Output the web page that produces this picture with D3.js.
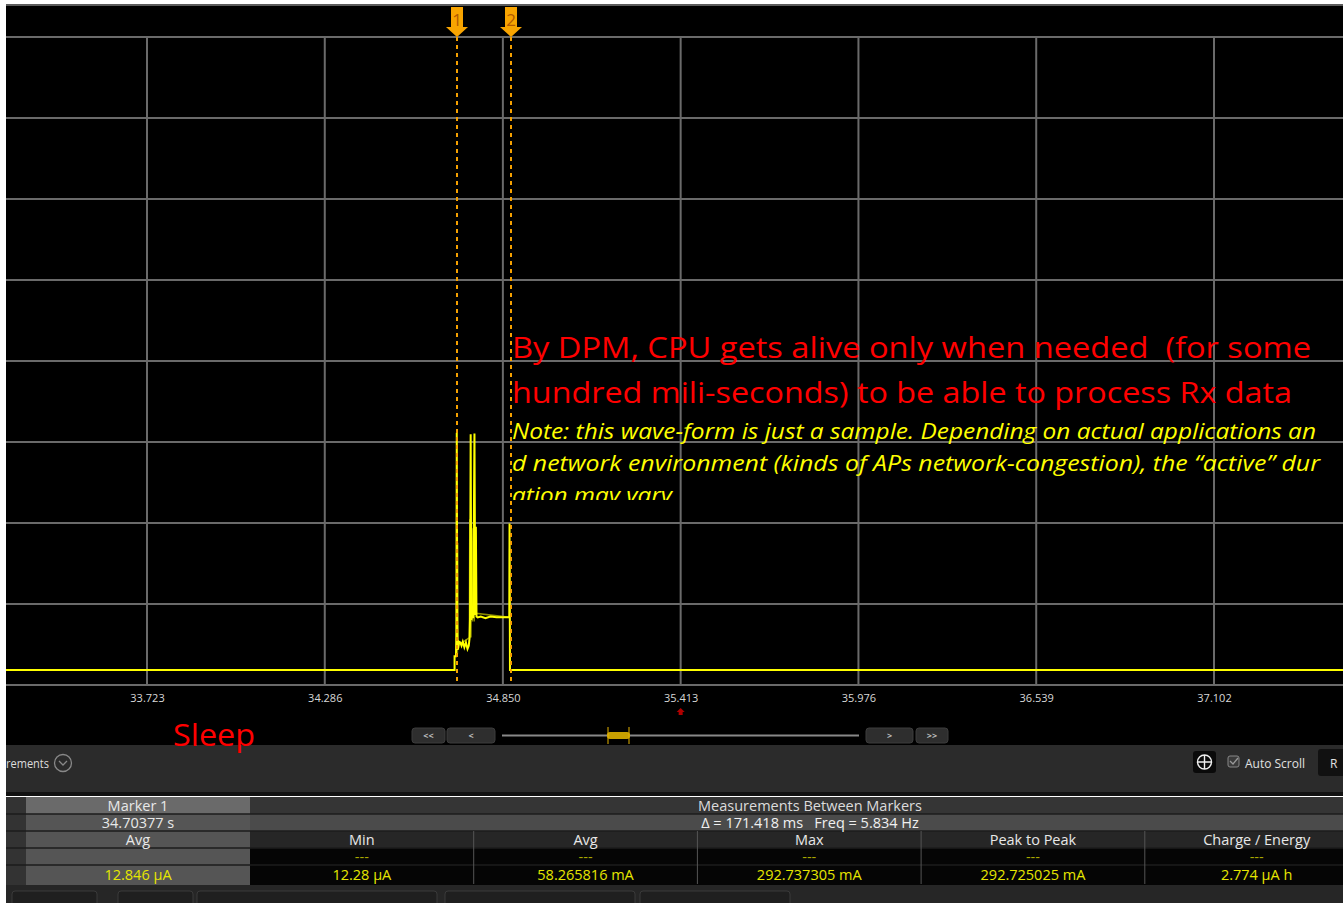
<!DOCTYPE html>
<html>
<head>
<meta charset="utf-8">
<script src="https://cdn.jsdelivr.net/npm/d3@7"></script>
<style>
  body { margin: 0; background: #fff; overflow: hidden; }
  svg { display: block; }
</style>
</head>
<body>
<script>
const width = 1343, height = 903;

// x axis tick labels (seconds)
const xTicks = [33.723, 34.286, 34.850, 35.413, 35.976, 36.539, 37.102];
// horizontal grid divisions (mA, 100 mA/div)
const yGrid = [-18.5, 81.5, 181.5, 281.5, 381.5, 481.5, 581.5, 681.5, 781.5];

// main trace: time (s) and current (mA)
const waveT = [33.25, 34.697, 34.697, 34.7015, 34.7026, 34.7040, 34.7055, 34.7068, 34.7090, 34.7110,
  34.7150, 34.7190, 34.7230, 34.7280, 34.7330, 34.7380, 34.7420, 34.7446, 34.7460, 34.7480,
  34.7500, 34.7530, 34.7560, 34.7600, 34.7625, 34.7645, 34.7665, 34.7700, 34.7800, 34.7950,
  34.8100, 34.8300, 34.8500, 34.8705, 34.8711, 34.8725, 37.60];
const waveI = [0.012, 0.012, 17, 17, 46, 293, 60, 25, 28, 35,
  34, 30, 35, 28, 34, 26, 30, 40, 65, 291,
  62, 70, 64, 292, 68, 177, 66, 65, 66, 64,
  66, 65, 65, 65, 181, 0.012, 0.012];

// dim envelope trace
const dimT = [34.7060, 34.7066, 34.7072, 34.7440, 34.7452, 34.7458, 34.7475, 34.7488, 34.7520, 34.7528,
  34.7580, 34.7590, 34.7640, 34.7650, 34.8708, 34.8715, 34.8720];
const dimI = [20, 157, 30, 40, 186, 50, 160, 40, 175, 60, 185, 60, 110, 70, 65, 150, 5];

// markers
const markers = [{ id: "1", t: 34.70377 }, { id: "2", t: 34.70377 + 0.171418 }];

// measurement table
const colHeads = ["Min", "Avg", "Max", "Peak to Peak", "Charge / Energy"];
const colVals = ["12.28 µA", "58.265816 mA", "292.737305 mA", "292.725025 mA", "2.774 µA h"];
const markerVal = "12.846 µA";

const noteRed = ["By DPM, CPU gets alive only when needed  (for some",
  "hundred mili-seconds) to be able to process Rx data"];
const noteYellow = ["Note: this wave-form is just a sample. Depending on actual applications an",
  "d network environment (kinds of APs network-congestion), the \u201cactive\u201d dur",
  "ation may vary"];

const x = d3.scaleLinear().domain([33.723, 37.102]).range([147, 1214]);
const y = d3.scaleLinear().domain([-18.5, 781.5]).range([685, 37]);

const svg = d3.select("body").append("svg")
  .attr("width", width).attr("height", height);

svg.append("rect").attr("width", width).attr("height", height).attr("fill", "#fff");
svg.append("rect").attr("x", 6).attr("y", 4).attr("width", width - 6).attr("height", 742).attr("fill", "#000");
svg.append("line").attr("x1", 6).attr("x2", width).attr("y1", 5).attr("y2", 5)
  .attr("stroke", "#5c5c5c").attr("stroke-width", 2);

svg.append("clipPath").attr("id", "plot")
  .append("rect").attr("x", 6).attr("y", 37).attr("width", width - 6).attr("height", 650);

// grid
const grid = svg.append("g").attr("stroke", "#6a6a6a").attr("stroke-width", 2);
grid.selectAll("line.h").data(yGrid).join("line").attr("class", "h")
  .attr("x1", 6).attr("x2", width).attr("y1", d => y(d)).attr("y2", d => y(d));
grid.selectAll("line.v").data(xTicks).join("line").attr("class", "v")
  .attr("x1", d => x(d)).attr("x2", d => x(d)).attr("y1", y(781.5)).attr("y2", y(-18.5));

// traces
const line = d3.line().x(d => x(d[0])).y(d => y(d[1]));
const plot = svg.append("g").attr("clip-path", "url(#plot)");
plot.append("path").datum(d3.zip(dimT, dimI)).attr("d", line)
  .attr("fill", "none").attr("stroke", "#8c8c00").attr("stroke-width", 1.5);
plot.append("path").datum(d3.zip(waveT, waveI)).attr("d", line)
  .attr("fill", "none").attr("stroke", "#ffff00").attr("stroke-width", 2);

// markers
const mk = svg.append("g").selectAll("g").data(markers).join("g")
  .attr("transform", d => `translate(${Math.round(x(d.t))},0)`);
mk.append("line").attr("y1", 37).attr("y2", 685)
  .attr("stroke", "#f5a000").attr("stroke-width", 2).attr("stroke-dasharray", "4,4");
mk.append("path").attr("d", "M-6,7H6V27H11L0,37L-11,27H-6Z").attr("fill", "#f8a400");
mk.append("text").attr("y", 26).attr("text-anchor", "middle")
  .attr("font-family", "Open Sans, sans-serif").attr("font-size", 17).attr("fill", "#b35a00")
  .text(d => d.id);

// annotations
const ann = svg.append("g");
const redW = [799, 780];
ann.selectAll("text.r").data(noteRed).join("text").attr("class", "r")
  .attr("x", 512).attr("y", (d, i) => 358 + i * 45)
  .attr("font-family", "Open Sans, sans-serif").attr("font-size", 30).attr("fill", "#ff0000")
  .attr("xml:space", "preserve")
  .attr("textLength", (d, i) => redW[i]).attr("lengthAdjust", "spacingAndGlyphs")
  .text(d => d);
svg.append("clipPath").attr("id", "noteclip")
  .append("rect").attr("x", 505).attr("y", 410).attr("width", 840).attr("height", 90);
const yelW = [804, 808, 160];
ann.append("g").attr("clip-path", "url(#noteclip)")
  .selectAll("text").data(noteYellow).join("text")
  .attr("x", 512).attr("y", (d, i) => 439 + i * 32)
  .attr("font-family", "Open Sans, sans-serif").attr("font-style", "italic").attr("font-size", 21)
  .attr("fill", "#ffff00")
  .attr("textLength", (d, i) => yelW[i]).attr("lengthAdjust", "spacingAndGlyphs")
  .text(d => d);

// x axis labels
const axis = svg.append("g").attr("transform", "translate(0,683)")
  .call(d3.axisBottom(x).tickValues(xTicks).tickFormat(d3.format(".3f")).tickSize(0).tickPadding(11));
axis.select(".domain").remove();
axis.selectAll("text").attr("fill", "#d8d8d8").attr("font-size", 11)
  .attr("font-family", "Open Sans, sans-serif");
svg.append("path").attr("d", `M${x(35.413)},708l4,4h-2v3h-4v-3h-2Z`).attr("fill", "#b00000");

// scroll controls
const btns = [{ x: 412, w: 33, t: "<<" }, { x: 447, w: 48, t: "<" }, { x: 866, w: 47, t: ">" }, { x: 916, w: 32, t: ">>" }];
const bg = svg.append("g").selectAll("g").data(btns).join("g");
bg.append("rect").attr("x", d => d.x).attr("y", 728).attr("width", d => d.w).attr("height", 15).attr("rx", 3)
  .attr("fill", "#2e2e2e").attr("stroke", "#3c3c3c");
bg.append("text").attr("x", d => d.x + d.w / 2).attr("y", 739).attr("text-anchor", "middle")
  .attr("font-family", "Open Sans, sans-serif").attr("font-size", 9).attr("font-weight", "bold")
  .attr("fill", "#bbb").text(d => d.t);
svg.append("line").attr("x1", 502).attr("x2", 859).attr("y1", 735.5).attr("y2", 735.5)
  .attr("stroke", "#888").attr("stroke-width", 2);
svg.append("rect").attr("x", 607).attr("y", 732).attr("width", 23).attr("height", 7).attr("rx", 3).attr("fill", "#c8a000");
svg.append("line").attr("x1", 608).attr("x2", 608).attr("y1", 727).attr("y2", 744).attr("stroke", "#e6b400");
svg.append("line").attr("x1", 629).attr("x2", 629).attr("y1", 727).attr("y2", 744).attr("stroke", "#e6b400");

// measurements header bar
svg.append("rect").attr("x", 6).attr("y", 745).attr("width", width - 6).attr("height", 47).attr("fill", "#2b2b2b");
svg.append("rect").attr("x", 6).attr("y", 792).attr("width", width - 6).attr("height", 4).attr("fill", "#111");
svg.append("text").attr("x", 6).attr("y", 768).attr("font-family", "Open Sans, sans-serif")
  .attr("font-size", 12).attr("fill", "#ddd").attr("textLength", 43).attr("lengthAdjust", "spacingAndGlyphs").text("rements");
svg.append("circle").attr("cx", 63).attr("cy", 763).attr("r", 8.5).attr("fill", "none").attr("stroke", "#888").attr("stroke-width", 1.3);
svg.append("path").attr("d", "M59,761l4,4l4,-4").attr("fill", "none").attr("stroke", "#888").attr("stroke-width", 1.3);
svg.append("rect").attr("x", 1193).attr("y", 751).attr("width", 23).attr("height", 22).attr("rx", 3).attr("fill", "#0a0a0a");
svg.append("circle").attr("cx", 1204.5).attr("cy", 762).attr("r", 7).attr("fill", "none").attr("stroke", "#eee").attr("stroke-width", 1.4);
svg.append("path").attr("d", "M1197.5,762h14M1204.5,755v14").attr("stroke", "#eee").attr("stroke-width", 1.4);
svg.append("rect").attr("x", 1228).attr("y", 756).attr("width", 11).attr("height", 11).attr("rx", 2)
  .attr("fill", "#3a3a3a").attr("stroke", "#888");
svg.append("path").attr("d", "M1230,761l3,3l5,-6").attr("fill", "none").attr("stroke", "#999").attr("stroke-width", 1.3);
svg.append("text").attr("x", 1245).attr("y", 768).attr("font-family", "Open Sans, sans-serif")
  .attr("font-size", 12).attr("fill", "#e0e0e0").attr("textLength", 60).attr("lengthAdjust", "spacingAndGlyphs").text("Auto Scroll");
svg.append("rect").attr("x", 1318).attr("y", 749).attr("width", 40).attr("height", 27).attr("rx", 3).attr("fill", "#111");
svg.append("text").attr("x", 1330).attr("y", 768).attr("font-family", "Open Sans, sans-serif")
  .attr("font-size", 12).attr("fill", "#e0e0e0").text("R");

// "Sleep" label sits over the panel edge
svg.append("text").attr("x", 173).attr("y", 746)
  .attr("font-family", "Open Sans, sans-serif").attr("font-size", 31).attr("fill", "#ff0000")
  .attr("textLength", 82).attr("lengthAdjust", "spacingAndGlyphs").text("Sleep");

// table
const tbl = svg.append("g").attr("font-family", "Open Sans, sans-serif").attr("font-size", 14.5);
const rows = [797, 814, 831, 848, 865, 885];
const rowFill = ["#353535", "#4b4b4b", "#262626", "#050505", "#050505"];
rowFill.forEach((c, i) => tbl.append("rect").attr("x", 6).attr("y", rows[i]).attr("width", width - 6)
  .attr("height", rows[i + 1] - rows[i]).attr("fill", c));
tbl.append("rect").attr("x", 26).attr("y", 797).attr("width", 224).attr("height", 17).attr("fill", "#6a6a6a");
tbl.append("rect").attr("x", 26).attr("y", 814).attr("width", 224).attr("height", 71).attr("fill", "#555");
tbl.append("rect").attr("x", 6).attr("y", 797).attr("width", 20).attr("height", 88).attr("fill", "#333");
rows.slice(1, 5).forEach(r => tbl.append("line").attr("x1", 6).attr("x2", width).attr("y1", r).attr("y2", r)
  .attr("stroke", "#1c1c1c").attr("stroke-width", 1.5));
const colX = d3.range(colHeads.length).map(i => 250 + i * 223.7);
tbl.selectAll("line.c").data(colX.slice(1)).join("line").attr("class", "c")
  .attr("x1", d => d).attr("x2", d => d).attr("y1", 831).attr("y2", 884).attr("stroke", "#555");
const cells = [
  { x: 138, y: 811, t: "Marker 1", c: "#e8e8e8" },
  { x: 138, y: 828, t: "34.70377 s", c: "#e8e8e8" },
  { x: 138, y: 845, t: "Avg", c: "#e8e8e8" },
  { x: 138, y: 880, t: markerVal, c: "#e6e600" },
  { x: 810, y: 811, t: "Measurements Between Markers", c: "#dcdcdc" },
  { x: 810, y: 828, t: "\u0394 = 171.418 ms   Freq = 5.834 Hz", c: "#f0f0f0" }
];
colHeads.forEach((h, i) => {
  const cx = colX[i] + 111.85;
  cells.push({ x: cx, y: 845, t: h, c: "#e8e8e8" });
  cells.push({ x: cx, y: 862, t: "---", c: "#a8a800" });
  cells.push({ x: cx, y: 880, t: colVals[i], c: "#e6e600" });
});
tbl.selectAll("text").data(cells).join("text")
  .attr("x", d => d.x).attr("y", d => d.y).attr("text-anchor", "middle")
  .attr("fill", d => d.c).attr("xml:space", "preserve").text(d => d.t);

// bottom toolbar (cropped)
svg.append("rect").attr("x", 6).attr("y", 885).attr("width", width - 6).attr("height", 18).attr("fill", "#262626");
const tools = [[12, 85], [118, 75], [197, 240], [445, 190], [640, 150]];
svg.append("g").selectAll("rect").data(tools).join("rect")
  .attr("x", d => d[0]).attr("y", 891).attr("width", d => d[1]).attr("height", 16).attr("rx", 3)
  .attr("fill", "#1f1f1f").attr("stroke", "#3a3a3a");
</script>
</body>
</html>
